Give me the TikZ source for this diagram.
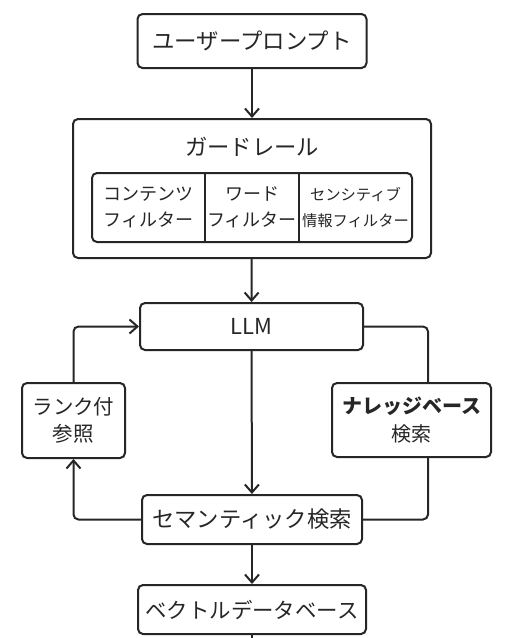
\documentclass[tikz,border=0pt]{standalone}
\usepackage{fontspec}
\setmainfont{Noto Sans CJK JP}
\usetikzlibrary{arrows.meta,calc}
\definecolor{ink}{HTML}{262626}
\tikzset{
  box/.style={draw=ink, line width=2pt, rounded corners=5pt, inner sep=0pt, text=ink},
  lbl/.style={inner sep=0pt, text=ink, align=center},
  conn/.style={draw=ink, line width=2pt, rounded corners=5pt},
  arr/.style={conn, -{Straight Barb[length=8pt,width=14pt]}},
}
\begin{document}
\begin{tikzpicture}[x=1pt,y=-1pt]
\useasboundingbox (0,0) rectangle (506,638);
\fill[white] (0,0) rectangle (506,638);
% user prompt
\node[box, minimum width=229pt, minimum height=54pt, font=\fontsize{22.4}{26}\selectfont] (prompt) at (252,41) {ユーザープロンプト};
% guardrail
\node[box, minimum width=358pt, minimum height=139pt] (guard) at (252,188.5) {};
\node[lbl, font=\fontsize{22.3}{26}\selectfont] (gtitle) at (252,147) {ガードレール};
\node[box, minimum width=320pt, minimum height=69pt] (filters) at (252,207.5) {};
\node[lbl, font=\fontsize{18}{26.5}\selectfont] (f1) at (148.5,207.5) {コンテンツ\\フィルター};
\node[lbl, font=\fontsize{18}{26.5}\selectfont] (f2) at (252,207.5) {ワード\\フィルター};
\node[lbl, font=\fontsize{15.3}{26.5}\selectfont] (f3) at (355.5,207.5) {センシティブ\\情報フィルター};
\coordinate (d1) at (205,207.5);
\coordinate (d2) at (299,207.5);
\draw[conn] (d1 |- filters.north) -- (d1 |- filters.south);
\draw[conn] (d2 |- filters.north) -- (d2 |- filters.south);
% LLM
\node[box, minimum width=223pt, minimum height=47pt, font=\fontsize{22}{26}\selectfont] (llm) at (251.5,326.5) {LLM};
% side boxes
\node[box, minimum width=103pt, minimum height=75pt, font=\fontsize{20.5}{26.5}\selectfont, align=center] (rank) at (73.5,420.5) {ランク付\\参照};
\node[box, minimum width=159pt, minimum height=74pt, font=\fontsize{20}{28}\selectfont, align=center] (know) at (411.5,420) {\textbf{ナレッジベース}\\検索};
% semantic search
\node[box, minimum width=220pt, minimum height=49pt, font=\fontsize{22.3}{26}\selectfont] (sem) at (252,519.5) {セマンティック検索};
% vector db
\node[box, minimum width=228pt, minimum height=49pt, font=\fontsize{21.4}{26}\selectfont] (vec) at (252,609.5) {ベクトルデータベース};
\coordinate (kr) at (428,420);
\coordinate (vend) at (252,640);
% connectors
\draw[arr] (prompt) -- (guard);
\draw[arr] (guard) -- (llm);
\draw[arr] (llm) -- (sem);
\draw[arr] (sem) -- (vec);
\draw[conn] (vec) -- (vend);
\draw[arr] (sem.west) -| (rank.south);
\draw[arr] (rank.north) |- (llm.west);
\draw[conn] (llm.east) -| (kr |- know.north);
\draw[conn] (kr |- know.south) |- (sem.east);
\end{tikzpicture}
\end{document}
